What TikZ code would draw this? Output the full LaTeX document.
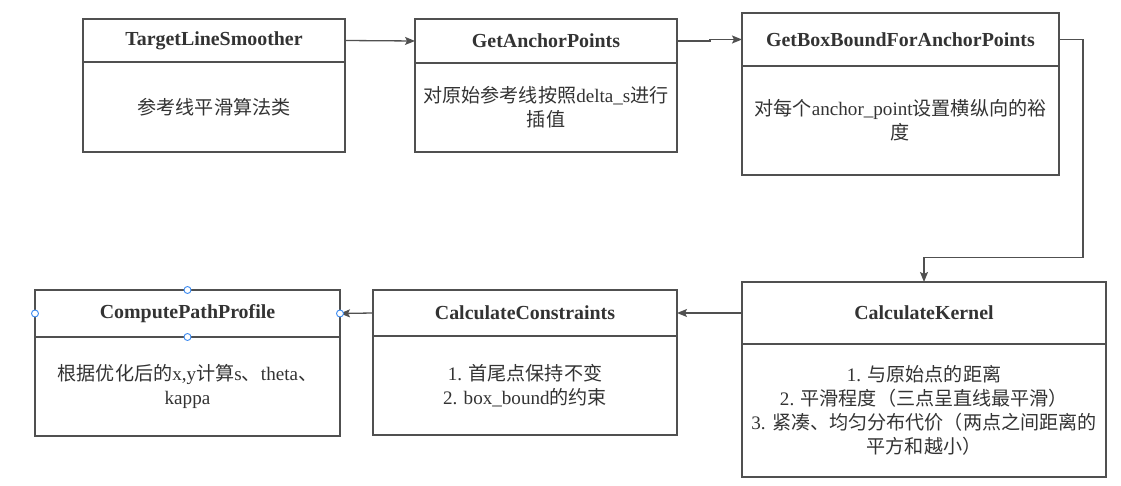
\documentclass[tikz,border=0pt]{standalone}
\usepackage{fontspec}
\setmainfont{Liberation Serif}
\newfontfamily\cjk{Noto Sans CJK SC}
\usetikzlibrary{arrows.meta}
\definecolor{linec}{HTML}{505050}
\definecolor{textc}{HTML}{333333}
\definecolor{handle}{HTML}{3D8BF0}
\tikzset{
  part/.style={draw=linec, line width=1.3pt, inner sep=0pt, outer sep=0pt, anchor=north west, text=textc, align=center},
  titlefont/.style={font=\fontsize{19.9}{24}\selectfont\bfseries},
  bodyfont/.style={font=\fontsize{19.1}{24}\selectfont},
  arr/.style={draw=linec, line width=1.3pt, -{Stealth[length=10pt,width=8pt,inset=2pt]}},
  hdl/.style={circle, draw=handle, fill=white, line width=0.9pt, inner sep=0pt, minimum size=7pt}
}
\begin{document}
\begin{tikzpicture}[x=1pt,y=-1pt]
\useasboundingbox (0,0) rectangle (1121,486);
% Box 1
\node[part, titlefont, minimum width=262pt, minimum height=43pt] (t1) at (83,19) {\raisebox{-2pt}{TargetLineSmoother}};
\node[part, bodyfont, minimum width=262pt, minimum height=90pt] (d1) at (83,62) {{\cjk 参考线平滑算法类}};
% Box 2
\node[part, titlefont, minimum width=262pt, minimum height=44pt] (t2) at (415,19) {\raisebox{-2pt}{GetAnchorPoints}};
\node[part, bodyfont, minimum width=262pt, minimum height=89pt] (d2) at (415,63) {{\cjk 对原始参考线按照}delta\_s{\cjk 进行}\\{\cjk 插值}};
% Box 3
\node[part, titlefont, minimum width=317pt, minimum height=53pt] (t3) at (742,13) {GetBoxBoundForAnchorPoints};
\node[part, bodyfont, minimum width=317pt, minimum height=109pt] (d3) at (742,66) {{\cjk 对每个}anchor\_point{\cjk 设置横纵向的裕}\\{\cjk 度}};
% Box 4
\node[part, titlefont, minimum width=364pt, minimum height=62pt] (t4) at (742,282) {CalculateKernel};
\node[part, bodyfont, minimum width=364pt, minimum height=133pt] (d4) at (742,344) {1. {\cjk 与原始点的距离}\\2. {\cjk 平滑程度（三点呈直线最平滑）}\\3. {\cjk 紧凑、均匀分布代价（两点之间距离的}\\{\cjk 平方和越小）}};
% Box 5
\node[part, titlefont, minimum width=304pt, minimum height=46pt] (t5) at (373,290) {\raisebox{-2pt}{CalculateConstraints}};
\node[part, bodyfont, minimum width=304pt, minimum height=99pt] (d5) at (373,336) {1. {\cjk 首尾点保持不变}\\2. box\_bound{\cjk 的约束}};
% Box 6
\node[part, titlefont, minimum width=305pt, minimum height=47pt] (t6) at (35,290) {\raisebox{-2pt}{ComputePathProfile}};
\node[part, bodyfont, minimum width=305pt, minimum height=99pt] (d6) at (35,337) {{\cjk 根据优化后的}x,y{\cjk 计算}s{\cjk 、}theta{\cjk 、}\\kappa};
% Connectors
\draw[arr] (t1.east) -- (t2.west);
\draw[arr] (t2.east) -- ++(33,0) |- (t3.west);
\draw[arr] (t3.east) -- ++(24,0) -- ++(0,218) -| (t4.north);
\draw[arr] (t4.west) -- (t5.east);
\draw[arr] (t5.west) -- (t6.east);
% Selection handles
\node[hdl] (h1) at (t6.north) {};
\node[hdl] (h2) at (t6.south) {};
\node[hdl] (h3) at (t6.west) {};
\node[hdl] (h4) at (t6.east) {};
\end{tikzpicture}
\end{document}
